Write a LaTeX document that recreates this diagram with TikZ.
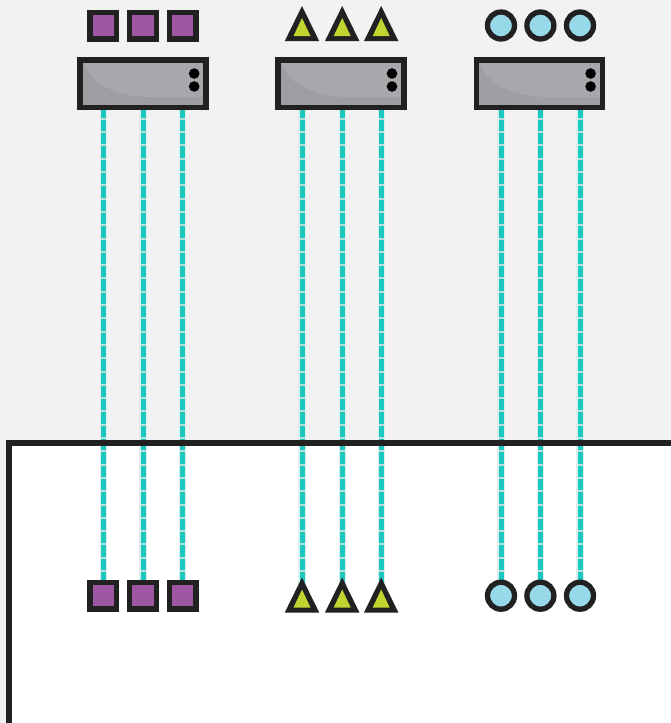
\documentclass[tikz,border=0pt]{standalone}
\usetikzlibrary{backgrounds}
\definecolor{pagegray}{HTML}{F2F2F2}
\definecolor{ink}{HTML}{212121}
\definecolor{violetfill}{HTML}{9E57A2}
\definecolor{limefill}{HTML}{C1D42F}
\definecolor{skyfill}{HTML}{97D9E9}
\definecolor{tealline}{HTML}{1CC7C0}
\definecolor{tealgap}{HTML}{B4E0DC}
\definecolor{tealhalo}{HTML}{DCEFEE}
\definecolor{boxgray}{HTML}{A7A8AB}
\definecolor{boxshade}{HTML}{999A9D}
\pgfdeclarelayer{wires}
\pgfsetlayers{background,wires,main}
\tikzset{
  x=1pt,y=-1pt,
  sqsym/.style={rectangle,draw=ink,line width=5.3pt,fill=violetfill,minimum size=26.7pt,inner sep=0pt,outer sep=0pt},
  cisym/.style={circle,draw=ink,line width=5.3pt,fill=skyfill,minimum size=27pt,inner sep=0pt,outer sep=0pt},
  trisize/.style={rectangle,minimum width=34.4pt,minimum height=35pt,inner sep=0pt,outer sep=0pt},
  boxnode/.style={rectangle,draw=ink,line width=5.5pt,fill=boxgray,minimum width=126pt,minimum height=47.5pt,inner sep=0pt,outer sep=0pt},
  halo/.style={line width=7.4pt,tealhalo},
  wirebase/.style={line width=5pt,tealgap},
  wiredash/.style={line width=5pt,tealline,dash pattern=on 11.3pt off 2pt,dash phase=0.7pt},
  framefill/.style={fill=white},
  frameline/.style={draw=ink,line width=5.7pt,line cap=butt,line join=miter},
  hatchline/.style={boxgray,line width=.6pt},
}
\newcommand{\trisym}[3]{%
  \node[trisize] (#1) at (#2,#3) {};
  \fill[ink] (#1.south west) -- (#1.north) -- (#1.south east) -- cycle;
  \fill[limefill] ([xshift=8.7pt,yshift=5pt]#1.south west) -- ([yshift=-12pt]#1.north) -- ([xshift=-8.7pt,yshift=5pt]#1.south east) -- cycle;
}
\newcommand{\shadeshape}[1]{([xshift=2.3pt,yshift=-2.25pt]#1.north west)
       .. controls +(9.5,23) and +(-35,-1) .. ([xshift=70pt,yshift=10pt]#1.south west)
       -- ([yshift=10pt]#1.south east) -- (#1.south east) -- (#1.south west) -- cycle}
\newcommand{\devbox}[3]{%
  \node[boxnode] (#1) at (#2,#3) {};
  \begin{scope}
    \clip (#1.north west) rectangle (#1.south east);
    \fill[boxshade] \shadeshape{#1};
    \begin{scope}
      \clip \shadeshape{#1};
      \foreach \d in {0,3,...,180}{
        \draw[hatchline] ([xshift=\d pt]#1.south west) -- ++(-50,-50);
      }
    \end{scope}
  \end{scope}
  \draw[ink,line width=5.5pt] (#1.north west) rectangle (#1.south east);
  \fill[black] (#2+51,#3-10) circle[radius=5.3pt];
  \fill[black] (#2+51,#3+3) circle[radius=5.3pt];
}
\newcommand{\wire}[2]{%
  \draw[halo] (#1) -- (#2);
  \draw[wirebase] (#1) -- (#2);
  \draw[wiredash] (#1) -- (#2);
}
\begin{document}
\begin{tikzpicture}
\useasboundingbox (0,0) rectangle (671,723);
\begin{pgfonlayer}{background}
\fill[pagegray] (0,0) rectangle (671,723);
\fill[framefill] (8.8,442.8) rectangle (671,723);
\end{pgfonlayer}

\devbox{boxA}{143.2}{83.5}
\devbox{boxB}{341}{83.5}
\devbox{boxC}{539.6}{83.5}

% top symbols
\node[sqsym] (tA1) at (103.2,25.5) {};
\node[sqsym] (tA2) at (143,25.5) {};
\node[sqsym] (tA3) at (182.7,25.5) {};
\trisym{tB1}{302}{23.5}
\trisym{tB2}{342.2}{23.5}
\trisym{tB3}{381.2}{23.5}
\node[cisym] (tC1) at (501,25.5) {};
\node[cisym] (tC2) at (540.4,25.5) {};
\node[cisym] (tC3) at (580,25.5) {};

% bottom symbols
\node[sqsym] (bA1) at (103.2,595.7) {};
\node[sqsym] (bA2) at (143,595.7) {};
\node[sqsym] (bA3) at (182.7,595.7) {};
\trisym{bB1}{302}{595}
\trisym{bB2}{342.2}{595}
\trisym{bB3}{381.2}{595}
\node[cisym] (bC1) at (501,595.7) {};
\node[cisym] (bC2) at (540.4,595.7) {};
\node[cisym] (bC3) at (580,595.7) {};

% frame runs over the wires
\coordinate (frameBL) at (8.8,723);
\coordinate (frameTL) at (8.8,442.8);
\coordinate (frameTR) at (671,442.8);
\draw[frameline] (frameBL) -- (frameTL) -- (frameTR);

\begin{pgfonlayer}{wires}
  \wire{boxA.south -| bA1}{bA1.north}
  \wire{boxA.south -| bA2}{bA2.north}
  \wire{boxA.south -| bA3}{bA3.north}
  \wire{boxB.south -| bB1}{bB1.center}
  \wire{boxB.south -| bB2}{bB2.center}
  \wire{boxB.south -| bB3}{bB3.center}
  \wire{boxC.south -| bC1}{bC1.north}
  \wire{boxC.south -| bC2}{bC2.north}
  \wire{boxC.south -| bC3}{bC3.north}
\end{pgfonlayer}
\end{tikzpicture}
\end{document}
